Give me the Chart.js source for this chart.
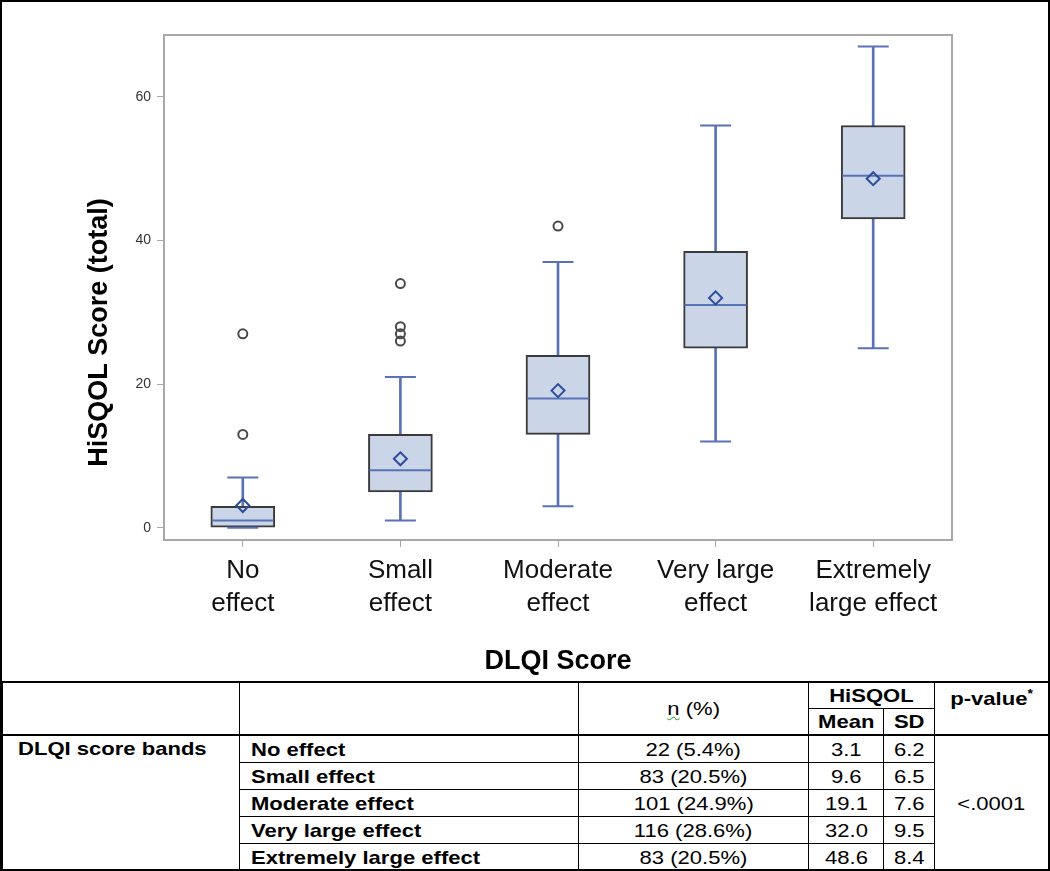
<!DOCTYPE html>
<html>
<head>
<meta charset="utf-8">
<script src="https://cdn.jsdelivr.net/npm/chart.js@4.4.1/dist/chart.umd.min.js"></script>
<style>
  html, body { margin: 0; padding: 0; background: #fff; }
  #frame { position: absolute; left: 0; top: 0; width: 1050px; height: 871px; box-sizing: border-box; border: 2px solid #000; overflow: hidden; }
  #chartBox { position: absolute; left: 0; top: 0; width: 1046px; height: 679px; }
  table { position: absolute; left: 0; top: 679px; width: 1046px; border-collapse: collapse; table-layout: fixed;
    font-family: "Liberation Sans", Arial, sans-serif; font-size: 19px; color: #000; }
  td { border: 1px solid #000; padding: 0; line-height: 1; }
  tr.hd td { height: 25px; }
  tr.row td { height: 26px; }
  table tr:first-child td { border-top: 2px solid #000; }
  td span.s { display: inline-block; transform: scaleX(1.16); transform-origin: center center; }
  td.lab span.s, td.band span.s { transform-origin: left center; }
  .b { font-weight: bold; }
  .c { text-align: center; }
  .lab { padding-left: 11px; font-weight: bold; }
  .band { vertical-align: top; padding-left: 15px; padding-top: 3px; font-weight: bold; }
  .pv { vertical-align: top; padding-top: 5px; }
  .pv sup { font-size: 12px; }
  .spell { text-decoration: underline wavy #4caf50; text-decoration-thickness: 1px; }
</style>
</head>
<body>
<div id="frame">
  <div id="chartBox"><canvas id="boxChart"></canvas></div>
  <table>
    <colgroup>
      <col style="width:237px"><col style="width:339px"><col style="width:230px">
      <col style="width:75px"><col style="width:51px"><col style="width:114px">
    </colgroup>
    <tr class="hd">
      <td rowspan="2"></td><td rowspan="2"></td>
      <td rowspan="2" class="c"><span class="s"><span class="spell">n</span> (%)</span></td>
      <td colspan="2" class="c b"><span class="s">HiSQOL</span></td>
      <td rowspan="2" class="c b pv"><span class="s">p-value<sup>*</sup></span></td>
    </tr>
    <tr class="hd"><td class="c b"><span class="s">Mean</span></td><td class="c b"><span class="s">SD</span></td></tr>
    <tbody id="rows"></tbody>
  </table>
</div>
<script>
'use strict';
// categories along the x axis, and how the tick text breaks into lines
const categories = ['No effect', 'Small effect', 'Moderate effect', 'Very large effect', 'Extremely large effect']
const tickLines = [['No', 'effect'], ['Small', 'effect'], ['Moderate', 'effect'], ['Very large', 'effect'], ['Extremely', 'large effect']]

// box plot statistics (HiSQOL total)
const whiskerLow = [0, 1, 3, 12, 25]
const boxLow = [0, 5, 13, 25, 43]
const medians = [1, 8, 18, 31, 49]
const boxHigh = [3, 13, 24, 38.5, 56]
const whiskerHigh = [7, 21, 37, 56, 67]
const means = [3.1, 9.6, 19.1, 32.0, 48.6]
const outliers = [[13, 27], [26, 27, 28, 34], [42], [], []]
const yTicks = [0, 20, 40, 60]

// table underneath
const nCounts = ['22 (5.4%)', '83 (20.5%)', '101 (24.9%)', '116 (28.6%)', '83 (20.5%)']
const sds = [6.2, 6.5, 7.6, 9.5, 8.4]
const pValue = '<.0001'

const whiskerColor = '#5872b5'
const boxFill = '#cad5e8'
const fontFamily = 'Liberation Sans, Arial, sans-serif'

const outlierPoints = []
outliers.forEach((list, idx) => {
  for (let v of list) {
    outlierPoints.push({ x: categories[idx], y: v })
  }
})

const frameAround = {
  id: 'frameAround',
  afterDraw(chart) {
    const { ctx, chartArea } = chart
    ctx.save()
    ctx.strokeStyle = '#a8a8a8'
    ctx.lineWidth = 2
    ctx.strokeRect(chartArea.left, chartArea.top, chartArea.right - chartArea.left, chartArea.bottom - chartArea.top)
    ctx.restore()
  }
}

const ctx = document.getElementById('boxChart')

new Chart(ctx, {
  type: 'bar',
  data: {
    labels: categories,
    datasets: [
      {
        label: 'whisker',
        data: whiskerLow.map((v, i) => [v, whiskerHigh[i]]),
        backgroundColor: whiskerColor,
        borderWidth: 0,
        barThickness: 2,
        grouped: false,
        order: 6
      },
      {
        label: 'box',
        data: boxLow.map((v, i) => [v, boxHigh[i]]),
        backgroundColor: boxFill,
        borderColor: '#3a3a3a',
        borderWidth: 2,
        borderSkipped: false,
        barThickness: 64,
        grouped: false,
        order: 5
      },
      {
        type: 'line',
        label: 'cap high',
        data: whiskerHigh,
        showLine: false,
        pointStyle: 'line',
        pointRadius: 15.5,
        pointBorderColor: whiskerColor,
        pointBorderWidth: 2,
        order: 4
      },
      {
        type: 'line',
        label: 'cap low',
        data: whiskerLow,
        showLine: false,
        pointStyle: 'line',
        pointRadius: 15.5,
        pointBorderColor: whiskerColor,
        pointBorderWidth: 2,
        order: 4
      },
      {
        type: 'line',
        label: 'median',
        data: medians,
        showLine: false,
        pointStyle: 'line',
        pointRadius: 31,
        pointBorderColor: whiskerColor,
        pointBorderWidth: 2,
        order: 3
      },
      {
        type: 'line',
        label: 'mean',
        data: means,
        showLine: false,
        pointStyle: 'rectRot',
        pointRadius: 6.5,
        pointBackgroundColor: 'rgba(0,0,0,0)',
        pointBorderColor: '#2d4c9c',
        pointBorderWidth: 2,
        order: 2
      },
      {
        type: 'line',
        label: 'outlier',
        data: outlierPoints,
        showLine: false,
        pointStyle: 'circle',
        pointRadius: 4.5,
        pointBackgroundColor: 'rgba(0,0,0,0)',
        pointBorderColor: '#4a4a4a',
        pointBorderWidth: 2,
        order: 1
      }
    ]
  },
  options: {
    responsive: true,
    maintainAspectRatio: false,
    animation: false,
    layout: { padding: { left: 79, top: 23, right: 96, bottom: 0 } },
    plugins: {
      legend: { display: false },
      tooltip: { enabled: false }
    },
    scales: {
      x: {
        offset: true,
        grid: { drawOnChartArea: false, offset: false, tickLength: 7, tickColor: '#a8a8a8', tickWidth: 1 },
        border: { color: '#a8a8a8', width: 2 },
        ticks: {
          autoSkip: false,
          maxRotation: 0,
          padding: 7,
          color: '#111',
          font: { family: fontFamily, size: 26, lineHeight: 1.27 },
          callback: (v, i) => tickLines[i]
        },
        title: {
          display: true,
          text: 'DLQI Score',
          color: '#000',
          font: { family: fontFamily, size: 27, weight: 'bold' },
          padding: { top: 0, bottom: 3 }
        },
        afterFit: (s) => { s.height = 141 }
      },
      y: {
        min: -1.7,
        max: 68.6,
        afterBuildTicks: (s) => { s.ticks = yTicks.map(v => ({ value: v })) },
        grid: { drawOnChartArea: false, tickLength: 7, tickColor: '#a8a8a8', tickWidth: 1 },
        border: { color: '#a8a8a8', width: 2 },
        ticks: {
          padding: 6,
          color: '#333',
          font: { family: fontFamily, size: 14 }
        },
        title: {
          display: true,
          // trailing spaces push the label a little below the axis middle, as in the original
          text: 'HiSQOL Score (total)' + '\u00a0'.repeat(12),
          color: '#000',
          font: { family: fontFamily, size: 27, weight: 'bold' },
          padding: { top: 2, bottom: 0 }
        },
        afterFit: (s) => { s.width = 83 }
      }
    }
  },
  plugins: [frameAround]
})

// fill the table rows
const tbody = document.getElementById('rows')
const wrap = (t) => '<span class="s">' + t + '</span>'
categories.forEach((name, idx) => {
  const tr = document.createElement('tr')
  tr.className = 'row'
  let html = ''
  if (idx === 0) html += '<td rowspan="5" class="band">' + wrap('DLQI score bands') + '</td>'
  html += '<td class="lab">' + wrap(name) + '</td>'
  html += '<td class="c">' + wrap(nCounts[idx]) + '</td>'
  html += '<td class="c">' + wrap(means[idx].toFixed(1)) + '</td>'
  html += '<td class="c">' + wrap(sds[idx].toFixed(1)) + '</td>'
  if (idx === 0) html += '<td rowspan="5" class="c">' + wrap(pValue.replace('<', '&lt;')) + '</td>'
  tr.innerHTML = html
  tbody.appendChild(tr)
})
</script>
</body>
</html>
